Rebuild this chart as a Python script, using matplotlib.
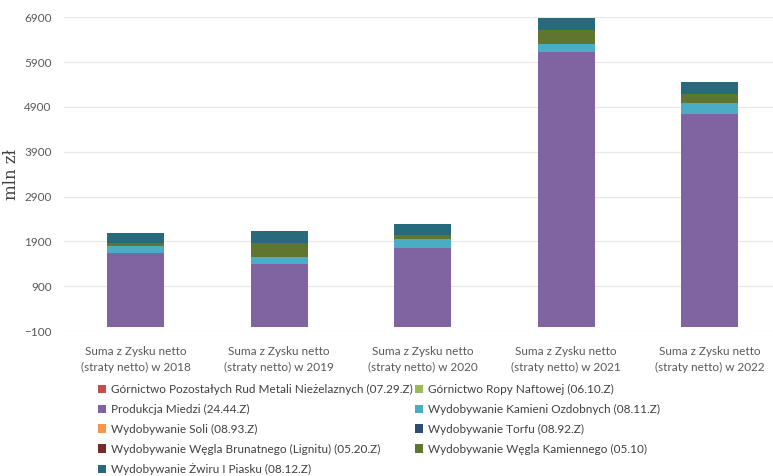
import matplotlib.pyplot as plt
import numpy as np

plt.rcParams['font.family'] = ['Lato', 'DejaVu Sans']

years = ['2018', '2019', '2020', '2021', '2022']
categories = ['Suma z Zysku netto\n(straty netto) w ' + y for y in years]

# mln zł, stacked bottom-up in this order
series_names = [
    'Górnictwo Pozostałych Rud Metali Nieżelaznych (07.29.Z)',
    'Górnictwo Ropy Naftowej (06.10.Z)',
    'Produkcja Miedzi (24.44.Z)',
    'Wydobywanie Kamieni Ozdobnych (08.11.Z)',
    'Wydobywanie Soli (08.93.Z)',
    'Wydobywanie Torfu (08.92.Z)',
    'Wydobywanie Węgla Brunatnego (Lignitu) (05.20.Z)',
    'Wydobywanie Węgla Kamiennego (05.10)',
    'Wydobywanie Żwiru I Piasku (08.12.Z)',
]
rudy = [0, 0, 0, 0, 0]
ropa = [0, 0, 0, 0, 0]
miedz = [1630, 1385, 1763, 6135, 4747]
kamienie = [170, 170, 185, 171, 236]
sol = [1, 1, 1, 1, 1]
torf = [0, 0, 0, 0, 0]
brunatny = [1, 1, 1, 1, 1]
kamienny = [65, 310, 82, 312, 210]
zwir = [230, 270, 245, 267, 258]
colors = ['#C0504D', '#9BBB59', '#8064A2', '#4BACC6', '#F79646',
          '#2C4D75', '#772C2A', '#5F7530', '#276A7C']

data = [rudy, ropa, miedz, kamienie, sol, torf, brunatny, kamienny, zwir]

fig = plt.figure(figsize=(7.73, 4.76), dpi=100)
ax = fig.add_axes([64 / 773, 1 - 331 / 476, 1 - 64 / 773, (331 - 17.3) / 476])

x = np.arange(len(categories))
bottom = np.zeros(len(categories))
handles = []
for name, vals, c in zip(series_names, data, colors):
    b = ax.bar(x, vals, 0.40, bottom=bottom, color=c, label=name, linewidth=0)
    handles.append(b)
    bottom += np.array(vals)

ax.set_xlim(-0.5, (773 - 64) / 143.5 - 0.5)
ax.set_ylim(-100, 6900)
ax.set_yticks(np.arange(-100, 6901, 1000))
ax.yaxis.grid(True, color='#E8E8E8', linewidth=0.9)
ax.set_axisbelow(True)
for s in ax.spines.values():
    s.set_visible(False)
ax.tick_params(axis='both', length=0, labelsize=8.5, labelcolor='#595959')
ax.tick_params(axis='y', pad=9)
ax.tick_params(axis='x', pad=11)
ax.set_xticks(x)
ax.set_xticklabels(categories, fontsize=8.5, linespacing=1.5)
ax.set_ylabel('mln zł', family='DejaVu Serif', fontsize=12, color='#404040')
ax.yaxis.set_label_coords(-44 / 709, 0.5)

# Legend is read row by row, matplotlib fills column by column
order = [0, 2, 4, 6, 8, 1, 3, 5, 7]
fig.legend([handles[i] for i in order], [series_names[i] for i in order],
           ncol=2, loc='upper left', bbox_to_anchor=(92 / 773, 1 - 378 / 476),
           frameon=False, fontsize=8.5, labelcolor='#404040',
           handlelength=0.7, handleheight=0.7, handletextpad=0.4,
           columnspacing=0.2, labelspacing=0.75, borderpad=0)

fig.savefig('out.png', dpi=100)
